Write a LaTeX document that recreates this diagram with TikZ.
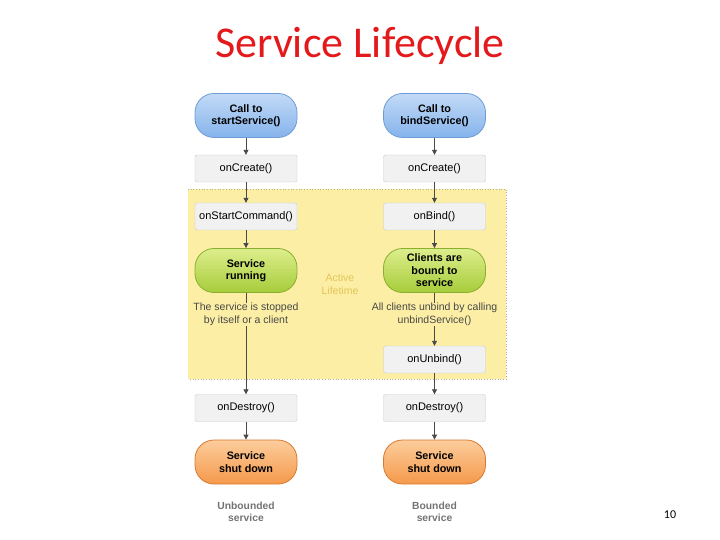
\documentclass[tikz,border=0pt]{standalone}
\usepackage{fontspec}
\setmainfont{Liberation Sans}
\newfontfamily\titlefont{Carlito}
\usetikzlibrary{arrows.meta}
\definecolor{titlered}{HTML}{E3191B}
\definecolor{yellowbg}{HTML}{FCEFA5}
\definecolor{boxfill}{HTML}{F1F1F1}
\definecolor{boxline}{HTML}{C8C8C8}
\definecolor{arrowgray}{HTML}{4A4A4A}
\definecolor{activecol}{HTML}{E2C45A}
\definecolor{bluetop}{HTML}{C2DAF6}
\definecolor{bluebot}{HTML}{85B3EC}
\definecolor{blueline}{HTML}{6F9CD6}
\definecolor{greentop}{HTML}{DDEE8C}
\definecolor{greenbot}{HTML}{A6CC3A}
\definecolor{greenline}{HTML}{8AAE2E}
\definecolor{orangetop}{HTML}{FCCD9C}
\definecolor{orangebot}{HTML}{F5994B}
\definecolor{orangeline}{HTML}{D9782C}
\definecolor{dotline}{HTML}{B8B090}
\begin{document}
\begin{tikzpicture}[x=1pt,y=-1pt,
  every node/.style={font=\fontsize{11}{13}\selectfont, align=center, inner sep=0pt},
  procbox/.style={draw=boxline, fill=boxfill, rounded corners=2pt, minimum width=102pt, minimum height=27pt},
  pill/.style={rounded corners=19pt, minimum width=102pt, minimum height=44pt, font=\fontsize{10.8}{12.5}\selectfont\bfseries, line width=0.8pt},
  bluepill/.style={pill, draw=blueline, top color=bluetop, bottom color=bluebot},
  greenpill/.style={pill, draw=greenline, top color=greentop, bottom color=greenbot},
  orangepill/.style={pill, draw=orangeline, top color=orangetop, bottom color=orangebot},
  flow/.style={draw=arrowgray, line width=0.8pt, -{Triangle[length=5pt,width=5pt]}},
  plain/.style={draw=arrowgray, line width=0.8pt},
  note/.style={font=\fontsize{10.5}{13}\selectfont, text=black!72},
  caption/.style={font=\fontsize{10.3}{12.5}\selectfont\bfseries, text=black!55}
]
\useasboundingbox (0,0) rectangle (720,540);
% title
\node[font=\fontsize{44}{46}\selectfont\titlefont, text=titlered] (title) at (360,46) {Service Lifecycle};
% active lifetime region
\fill[yellowbg] (188,189) rectangle (506,379);
\draw[dotline, dotted, line width=0.7pt] (188,189) -- (506,189) -- (506,379) -- (188,379);
\node[text=activecol, font=\fontsize{10.5}{12.5}\selectfont] (active) at (340,284) {Active\\Lifetime};
% left column
\node[bluepill] (call1) at (246,115.5) {Call to\\startService()};
\node[procbox] (create1) at (246,168.5) {onCreate()};
\node[procbox] (start1) at (246,216.5) {onStartCommand()};
\node[greenpill] (run1) at (246,270.5) {Service\\running};
\node[note] (stop1) at (246,314.5) {The service is stopped\\by itself or a client};
\node[procbox] (destroy1) at (246,408) {onDestroy()};
\node[orangepill] (down1) at (246,462) {Service\\shut down};
\node[caption] (cap1) at (246,512) {Unbounded\\service};
% right column
\node[bluepill] (call2) at (434.5,115.5) {Call to\\bindService()};
\node[procbox] (create2) at (434.5,168.5) {onCreate()};
\node[procbox] (bind2) at (434.5,216.5) {onBind()};
\node[greenpill] (run2) at (434.5,270.5) {Clients are\\bound to\\service};
\node[note] (stop2) at (434.5,314.5) {All clients unbind by calling\\unbindService()};
\node[procbox] (unbind2) at (434.5,359.5) {onUnbind()};
\node[procbox] (destroy2) at (434.5,408) {onDestroy()};
\node[orangepill] (down2) at (434.5,462) {Service\\shut down};
\node[caption] (cap2) at (434.5,512) {Bounded\\service};
% page number
\node[font=\fontsize{12}{14}\selectfont\titlefont] (page) at (670,515) {10};
% connectors left
\draw[flow] (call1) -- (create1);
\draw[flow] (create1) -- (start1);
\draw[flow] (start1) -- (run1);
\draw[plain] (run1.south) -- (stop1.north);
\draw[flow] (stop1.south) -- (destroy1.north);
\draw[flow] (destroy1) -- (down1);
% connectors right
\draw[flow] (call2) -- (create2);
\draw[flow] (create2) -- (bind2);
\draw[flow] (bind2) -- (run2);
\draw[plain] (run2.south) -- (stop2.north);
\draw[flow] (stop2.south) -- (unbind2.north);
\draw[flow] (unbind2) -- (destroy2);
\draw[flow] (destroy2) -- (down2);
\end{tikzpicture}
\end{document}
